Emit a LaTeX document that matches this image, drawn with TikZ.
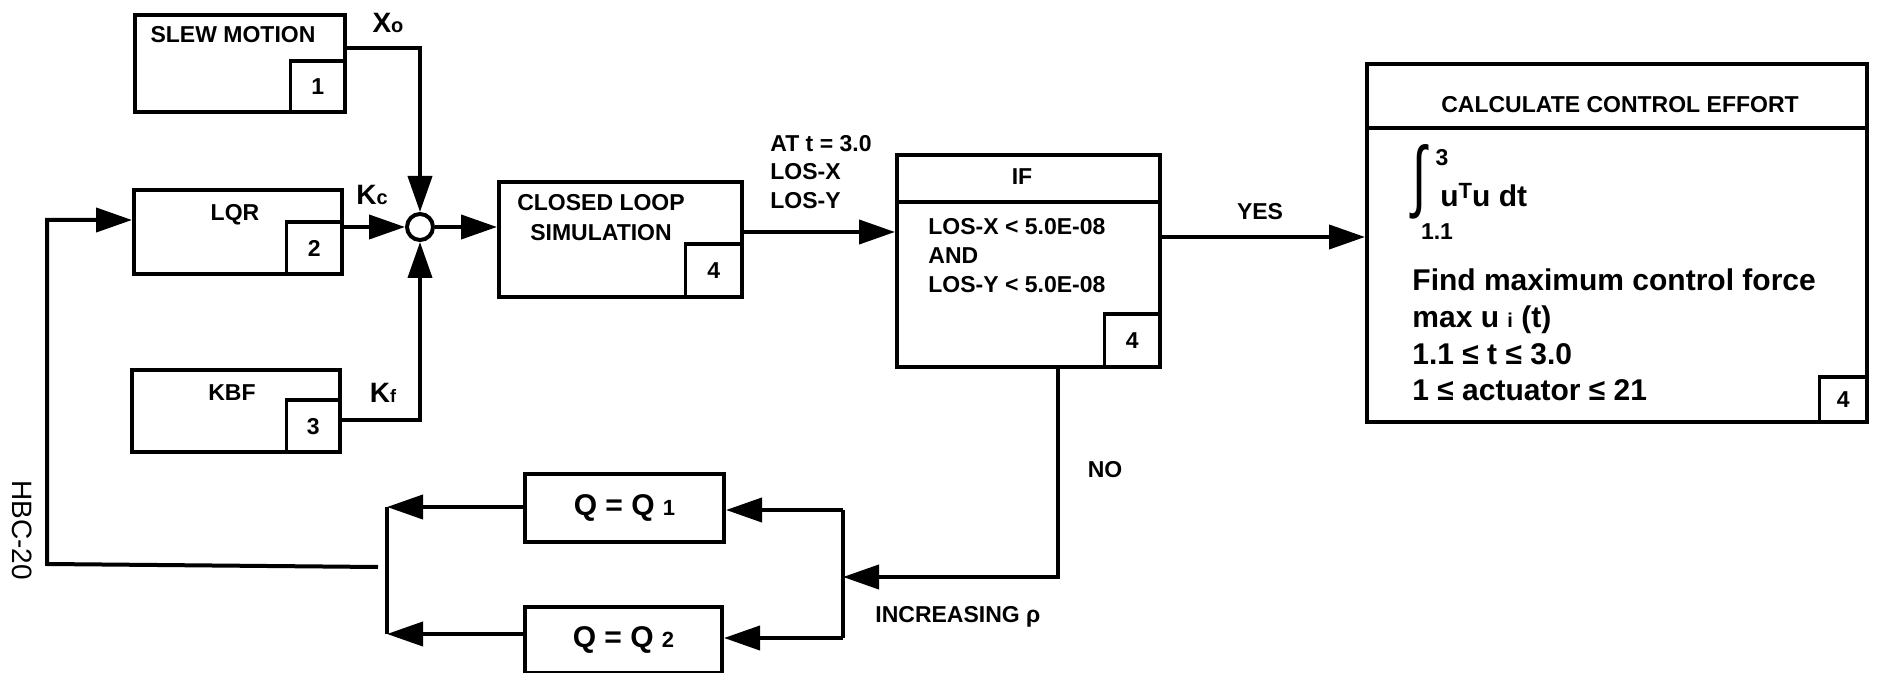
\documentclass[tikz,border=0pt]{standalone}
\usepackage{fontspec}
\setmainfont{Liberation Sans}
\usetikzlibrary{arrows.meta,calc}
\begin{document}
\begin{tikzpicture}[x=0.5pt,y=-0.5pt,
  box/.style={draw,line width=2pt,inner sep=0pt,anchor=north west},
  numbox/.style={draw,line width=1.75pt,inner sep=0pt,anchor=south east,font=\fontsize{11.5}{12}\selectfont\bfseries},
  lbl/.style={inner sep=0pt,font=\fontsize{11.5}{14.5}\selectfont\bfseries},
  big/.style={inner sep=0pt,font=\fontsize{15}{18.3}\selectfont\bfseries},
  gain/.style={inner sep=0pt,font=\fontsize{14}{14}\selectfont\bfseries},
  arr/.style={line width=2pt,-{Triangle[length=18pt,width=12pt]}},
  ln/.style={line width=2pt},
]
\useasboundingbox (0,0) rectangle (1894,673);

% boxes
\node[box,minimum width=105pt,minimum height=48.5pt] (slew) at (133,13) {};
\node[numbox,minimum width=27.5pt,minimum height=25.5pt] (slewn) at (slew.south east) {1};
\node[box,minimum width=104pt,minimum height=42pt] (lqr) at (132,188) {};
\node[numbox,minimum width=28pt,minimum height=26pt] (lqrn) at (lqr.south east) {2};
\node[box,minimum width=104pt,minimum height=41pt] (kbf) at (130,368) {};
\node[numbox,minimum width=27pt,minimum height=26pt] (kbfn) at (kbf.south east) {3};
\node[box,minimum width=121.5pt,minimum height=57.5pt] (cl) at (497,180) {};
\node[numbox,minimum width=28.5pt,minimum height=26.5pt] (cln) at (cl.south east) {4};
\node[box,minimum width=131.5pt,minimum height=106pt] (if) at (895,153) {};
\node[numbox,minimum width=28pt,minimum height=26.5pt] (ifn) at (if.south east) {4};
\draw[ln] (if.west |- 0,202) -- (if.east |- 0,202);
\node[box,minimum width=250pt,minimum height=179pt] (calc) at (1365,62) {};
\node[numbox,minimum width=24pt,minimum height=22.5pt] (calcn) at (calc.south east) {4};
\draw[ln] (calc.west |- 0,128) -- (calc.east |- 0,128);
\node[box,minimum width=99.5pt,minimum height=34pt] (q1) at (523,472) {};
\node[box,minimum width=98.5pt,minimum height=33pt] (q2) at (523,605) {};
\node[draw,circle,line width=2pt,fill=white,minimum size=13pt,inner sep=0pt] (sum) at (420,227) {};

% texts
\node[lbl] (slewt) at (233,35) {SLEW MOTION};
\node[lbl] (lqrt) at (235,215) {LQR};
\node[lbl] (kbft) at (232,393) {KBF};
\node[lbl,align=center,font=\fontsize{11.5}{15}\selectfont\bfseries] (clt) at (601,218) {CLOSED LOOP\\SIMULATION};
\node[lbl,align=left,anchor=west,font=\fontsize{11.5}{14.25}\selectfont\bfseries] (att) at (770,172) {AT t = 3.0\\LOS-X\\LOS-Y};
\node[lbl] (ift) at (1022,177) {IF};
\node[lbl,align=left,anchor=west] (ifb) at (928,256) {LOS-X < 5.0E-08\\AND\\LOS-Y < 5.0E-08};
\node[lbl] (yes) at (1260,212) {YES};
\node[lbl] (no) at (1105,470) {NO};
\node[lbl,anchor=west] (incr) at (875,617) {INCREASING ρ};
\node[lbl] (calct) at (1620,105) {CALCULATE CONTROL EFFORT};
\node[gain] (xo) at (388,23) {X{\fontsize{10}{10}\selectfont o}};
\node[gain] (kc) at (372,195) {K{\fontsize{10}{10}\selectfont c}};
\node[gain] (kf) at (383,393) {K{\fontsize{9}{9}\selectfont f}};
\node[big] (q1t) at (q1.center) {Q = Q {\fontsize{11}{11}\selectfont 1}};
\node[big] (q2t) at (q2.center) {Q = Q {\fontsize{11}{11}\selectfont 2}};
\node[inner sep=0pt,font=\fontsize{14}{14}\selectfont,rotate=-90] (hbc) at (22,530) {HBC-20};

% calc body
\node[inner sep=0pt] (intg) at (1419,182) {\resizebox{7pt}{29pt}{∫}};
\node[lbl] (up) at (1442,158) {3};
\node[lbl] (lo) at (1437,232) {1.1};
\node[big,anchor=base west] (utu) at (1440,207) {u\raisebox{0.55ex}{\fontsize{11}{11}\selectfont T}u dt};
\node[big,align=left,anchor=west] (body) at (1412,335) {Find maximum control force\\max u {\fontsize{10}{10}\selectfont i} (t)\\1.1 ≤ t ≤ 3.0\\1 ≤ actuator ≤ 21};

% coordinates
\coordinate (nox) at (1058,0);
\coordinate (rbt) at (843,510);
\coordinate (rbb) at (843,638);
\coordinate (rbm) at (843,577);
\coordinate (lbt) at (387,507);
\coordinate (lbb) at (387,634);
\coordinate (fbs) at (378,567);
\coordinate (fbc) at (47,564);

% connectors
\draw[arr] (slew.east |- 0,48) -| (sum.north);
\draw[arr] (lqr.east |- sum.west) -- (sum.west);
\draw[arr] (kbf.east |- 0,420) -| (sum.south);
\draw[arr] (sum.east) -- (cl.west |- sum.east);
\draw[arr] (cl.east |- 0,232) -- (if.west |- 0,232);
\draw[arr] (if.east |- 0,237) -- (calc.west |- 0,237);
\draw[arr] (if.south -| nox) |- (rbm);
\draw[ln] (rbt) -- (rbb);
\draw[arr] (rbt) -- (q1.east |- rbt);
\draw[arr] (rbb) -- (q2.east |- rbb);
\draw[ln] (lbt) -- (lbb);
\draw[arr] (q1.west |- lbt) -- (lbt);
\draw[arr] (q2.west |- lbb) -- (lbb);
\draw[arr] (fbs) -- (fbc) |- (lqr.west |- 0,220);
\end{tikzpicture}
\end{document}
